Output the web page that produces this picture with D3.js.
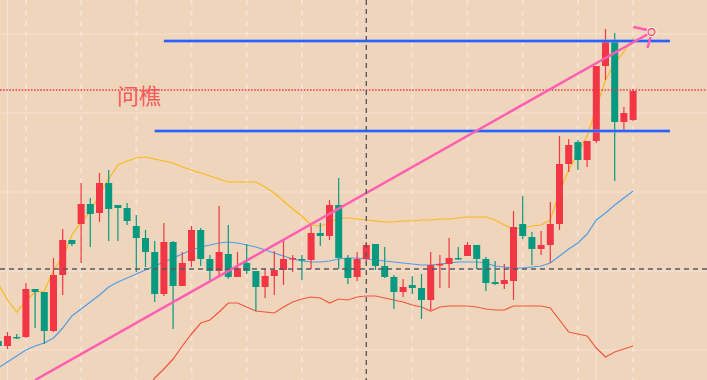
<!DOCTYPE html>
<html>
<head>
<meta charset="utf-8">
<script src="https://cdn.jsdelivr.net/npm/d3@7/dist/d3.min.js"></script>
<style>
  html, body { margin: 0; padding: 0; background: #efd5bc; }
  svg { display: block; }
</style>
</head>
<body>
<svg id="chart" width="707" height="380"></svg>
<script>
// ---- data (index starts at -1; price units) ----
const firstIndex = -1;
const opens  = [59,54,63,63,111,108,69,125,160,176,196,187,217,195,192,174,162,148,106,158,114,139,170,141,129,146,123,137,129,113,124,130,141,141,140,167,164,195,142,123,141,156,134,123,108,115,112,100,135,136,142,144,155,141,118,116,119,176,163,151,155,176,236,258,240,259,334,360,278,280];
const highs  = [61,68,66,117,111,108,142,171,160,217,202,227,230,195,197,185,170,159,177,159,148,174,172,145,194,175,148,156,129,132,149,160,145,145,174,177,200,222,145,148,158,156,153,125,121,124,126,148,145,162,153,158,155,143,139,136,189,204,168,169,198,264,261,260,259,334,371,367,293,311];
const lows   = [52,51,61,62,72,56,68,105,154,137,153,178,159,159,175,128,133,98,104,71,114,133,134,120,125,121,123,126,89,102,105,115,128,120,131,154,160,131,116,119,136,130,122,91,103,106,81,90,112,112,140,144,131,109,115,111,100,161,135,145,137,170,228,230,233,257,320,219,269,279];
const closes = [54,64,62,111,108,69,125,160,156,196,186,217,191,192,179,162,148,106,158,114,137,170,141,129,148,123,132,129,113,124,130,141,142,140,167,164,195,142,122,141,155,134,123,108,113,112,100,135,136,142,141,155,141,117,116,120,173,164,151,155,176,236,255,240,259,334,360,278,287,309];

const upperBand = [116,100,88,99,108,109,130,142,165,178,188,206,221,235,239,242,243,241,239,237,233,230,227,224,221,218,218,218,218,213,207,199,191,184,175,174,177,182,182,181,180,179,178,178,179,179,180,180,181,181,182,183,183,183,180,175,171,172,174,175,180,208,230,247,264,292,320,337,348,362];
const midBand   = [32,38,44,50,54,57,62,72,84,91,98,105,113,118,122,126,130,134,138,142,146,150,153,155,157,158,157,155,153,150,147,144,141,139,138,138,139,141,142,142,141,140,139,138,137,136,135,135,136,137,138,138,138,137,134,133,132,132,133,134,137,144,151,157,166,180,187,195,202,209];
const lowerBand = [null,null,null,null,null,null,null,null,null,null,null,null,null,null,null,null,8,22,31,41,54,66,77,80,88,97,97,93,89,88,87,93,98,101,103,102,97,101,100,103,104,104,102,100,98,95,93,89,93,94,94,94,93,91,90,90,94,94,94,94,92,80,68,66,64,52,43,48,51,54];

const resistanceLevels = [359, 269];       // blue horizontal lines
const resistanceStart  = [17, 16];         // start bar index
const levelEnd = 72;
const lastPriceLevel = 310;                // red dotted line
const crosshairIndex = 39, crosshairPrice = 131;
const trendStart = {i: 3, v: 20}, trendEnd = {i: 70, v: 368};
const gridPrices = [366, 287, 208, 129, 50];
const gridBars = d3.range(2, 69, 6);
const solidGridBars = [0, 64];
const labelText = "问樵";

// ---- build ----
const W = 707, H = 380;
const bars = opens.map((o, k) => ({i: k + firstIndex, o, h: highs[k], l: lows[k], c: closes[k]}));

const x = d3.scaleLinear().domain([0, 68]).range([7.5, 633.1]);
const y = d3.scaleLinear().domain([20, 400]).range([380, 0]);

const svg = d3.select("#chart");
svg.append("rect").attr("width", W).attr("height", H).attr("fill", "#efd5bc");

const grid = svg.append("g");
grid.selectAll(".hg").data(gridPrices).join("line")
  .attr("x1", 0).attr("x2", W).attr("y1", d => y(d)).attr("y2", d => y(d))
  .attr("stroke", "#f5e3d3").attr("stroke-width", 1.2);
grid.selectAll(".vg").data(gridBars).join("line")
  .attr("x1", d => x(d)).attr("x2", d => x(d)).attr("y1", 0).attr("y2", H)
  .attr("stroke", "#f5e3d3").attr("stroke-width", 2).attr("stroke-dasharray", "5,5.5");
grid.selectAll(".vs").data(solidGridBars).join("line")
  .attr("x1", d => x(d)).attr("x2", d => x(d)).attr("y1", 0).attr("y2", H)
  .attr("stroke", "#f5e3d3").attr("stroke-width", 1.2);

// bands
function bandLine(arr, color) {
  const pts = arr.map((v, k) => ({i: k + firstIndex, v})).filter(d => d.v !== null);
  svg.append("path").datum(pts)
    .attr("d", d3.line().x(d => x(d.i)).y(d => y(d.v)))
    .attr("fill", "none").attr("stroke", color).attr("stroke-width", 1.2);
}
bandLine(upperBand, "#fbb918");
bandLine(midBand, "#4f9de8");
bandLine(lowerBand, "#f2563c");

// candles
const up = "#f23645", down = "#089981";
const cg = svg.append("g");
const candle = cg.selectAll("g").data(bars).join("g");
candle.append("line")
  .attr("x1", d => x(d.i)).attr("x2", d => x(d.i))
  .attr("y1", d => y(d.h)).attr("y2", d => y(d.l))
  .attr("stroke", d => d.c >= d.o ? up : down).attr("stroke-width", 1.2);
candle.append("rect")
  .attr("x", d => x(d.i) - 3.5).attr("width", 7)
  .attr("y", d => y(Math.max(d.o, d.c)))
  .attr("height", d => Math.max(1.5, Math.abs(y(d.o) - y(d.c))))
  .attr("fill", d => d.c >= d.o ? up : down);

// last price dotted line
svg.append("line").attr("x1", 0).attr("x2", W)
  .attr("y1", y(lastPriceLevel)).attr("y2", y(lastPriceLevel))
  .attr("stroke", "#f23645").attr("stroke-width", 1.3).attr("stroke-dasharray", "1.5,1.6");

// blue horizontal levels
resistanceLevels.forEach((lv, k) => {
  svg.append("line").attr("x1", x(resistanceStart[k])).attr("x2", x(levelEnd))
    .attr("y1", y(lv)).attr("y2", y(lv))
    .attr("stroke", "#6f93f0").attr("stroke-opacity", 0.55).attr("stroke-width", 4);
  svg.append("line").attr("x1", x(resistanceStart[k])).attr("x2", x(levelEnd))
    .attr("y1", y(lv)).attr("y2", y(lv))
    .attr("stroke", "#2962ff").attr("stroke-width", 2);
});

// trend arrow line
const pink = "#ff5eb2";
const ex = x(trendEnd.i), ey = y(trendEnd.v);
svg.append("line").attr("x1", x(trendStart.i)).attr("y1", y(trendStart.v))
  .attr("x2", ex).attr("y2", ey)
  .attr("stroke", pink).attr("stroke-width", 2.5);
svg.append("line").attr("x1", ex - 18).attr("y1", ey - 5).attr("x2", ex - 4).attr("y2", ey - 2)
  .attr("stroke", pink).attr("stroke-width", 2.5);
svg.append("line").attr("x1", ex - 1).attr("y1", ey + 5).attr("x2", ex - 4).attr("y2", ey + 16)
  .attr("stroke", pink).attr("stroke-width", 2.5);
svg.append("circle").attr("cx", ex).attr("cy", ey).attr("r", 5)
  .attr("fill", "#ffffff");
svg.append("circle").attr("cx", ex).attr("cy", ey).attr("r", 3.5)
  .attr("fill", "#efd5bc").attr("stroke", "#f0506e").attr("stroke-width", 1.3);

// crosshair
svg.append("line").attr("x1", 0).attr("x2", W)
  .attr("y1", y(crosshairPrice)).attr("y2", y(crosshairPrice))
  .attr("stroke", "#555a63").attr("stroke-width", 1.4).attr("stroke-dasharray", "5,4");
svg.append("line").attr("x1", x(crosshairIndex)).attr("x2", x(crosshairIndex))
  .attr("y1", 0).attr("y2", H)
  .attr("stroke", "#555a63").attr("stroke-width", 1.4).attr("stroke-dasharray", "5,4");

// label
svg.append("text").attr("x", 117).attr("y", 104)
  .attr("font-family", "'Noto Sans CJK SC', sans-serif").attr("font-size", 22)
  .attr("fill", "#f45b5b").text(labelText);
</script>
</body>
</html>
